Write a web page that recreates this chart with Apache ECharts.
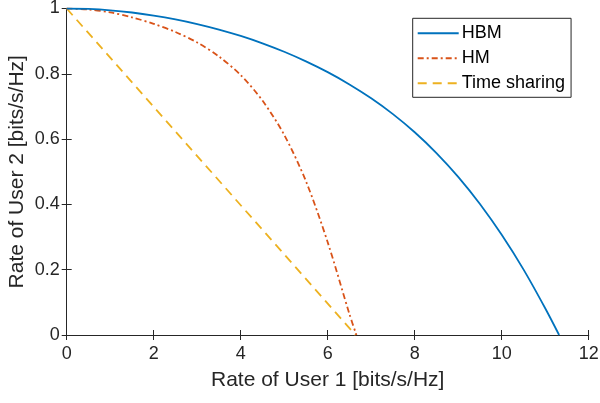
<!DOCTYPE html>
<html>
<head>
<meta charset="utf-8">
<script src="https://cdn.jsdelivr.net/npm/echarts@6/dist/echarts.min.js"></script>
<style>
html,body{margin:0;padding:0;background:#fff;}
#c{width:600px;height:403px;}
</style>
</head>
<body>
<div id="c"></div>
<script>
var seriesNames = ['HBM', 'HM', 'Time sharing'];
var xTicks = [0, 2, 4, 6, 8, 10, 12];
var yTicks = [0, 0.2, 0.4, 0.6, 0.8, 1];

var hbmX = [0, 0.5, 1, 1.5, 2, 2.5, 3, 3.5, 4, 4.5, 5, 5.5, 6, 6.5, 7, 7.5, 8, 8.5, 9, 9.5, 10, 10.5, 11, 11.32];
var hbmY = [1, 0.9986, 0.9945, 0.9878, 0.9785, 0.9668, 0.9525, 0.9356, 0.916, 0.8934, 0.8675, 0.8381, 0.805, 0.7675, 0.725, 0.6765, 0.621, 0.5574, 0.4845, 0.4014, 0.307, 0.201, 0.082, 0];

var hmX = [0, 0.5, 1, 1.5, 2, 2.5, 3, 3.5, 4, 4.5, 5, 5.5, 6, 6.5, 6.66];
var hmY = [1, 0.997, 0.988, 0.973, 0.953, 0.928, 0.896, 0.853, 0.796, 0.718, 0.613, 0.471, 0.284, 0.064, 0];

var tsX = [0, 6.64];
var tsY = [1, 0];

function pairs(xs, ys) { return xs.map(function (x, i) { return [x, ys[i]]; }); }

var FONT = '"Liberation Sans", Arial, Helvetica, sans-serif';
var AX = '#262626';

var chart = echarts.init(document.getElementById('c'), null, {renderer: 'canvas'});
var baseAxis = {
  axisLine: {show: true, lineStyle: {color: AX, width: 1}},
  axisTick: {show: true, inside: true, length: 5, lineStyle: {color: AX, width: 1}},
  splitLine: {show: false}
};
chart.setOption({
  backgroundColor: '#ffffff',
  animation: false,
  grid: {left: 66.7, right: 11.3, top: 8.5, bottom: 68, containLabel: false, outerBoundsMode: 'none'},
  legend: {
    orient: 'vertical',
    left: 412.7, top: 18.3,
    data: seriesNames,
    backgroundColor: '#ffffff',
    borderColor: AX, borderWidth: 1,
    padding: [5, 6, 4, 4],
    itemWidth: 41, itemHeight: 14, itemGap: 5,
    itemStyle: {opacity: 0},
    textStyle: {fontFamily: FONT, fontSize: 18, color: '#000', lineHeight: 20, padding: [0, 0, 0, -2]}
  },
  xAxis: [
    Object.assign({}, baseAxis, {
      type: 'value', min: xTicks[0], max: xTicks[xTicks.length - 1], interval: xTicks[1] - xTicks[0],
      position: 'bottom',
      name: 'Rate of User 1 [bits/s/Hz]', nameLocation: 'middle', nameGap: 35,
      nameTextStyle: {fontFamily: FONT, fontSize: 21, color: AX},
      axisLabel: {fontFamily: FONT, fontSize: 18, color: AX, margin: 10}
    }),
    Object.assign({}, baseAxis, {
      type: 'value', min: xTicks[0], max: xTicks[xTicks.length - 1], interval: xTicks[1] - xTicks[0],
      position: 'top', axisLabel: {show: false}
    })
  ],
  yAxis: [
    Object.assign({}, baseAxis, {
      type: 'value', min: yTicks[0], max: yTicks[yTicks.length - 1], interval: 0.2,
      position: 'left',
      name: 'Rate of User 2 [bits/s/Hz]', nameLocation: 'middle', nameGap: 39, nameMoveOverlap: false,
      nameTextStyle: {fontFamily: FONT, fontSize: 21, color: AX},
      axisLabel: {fontFamily: FONT, fontSize: 18, color: AX, margin: 7}
    }),
    Object.assign({}, baseAxis, {
      type: 'value', min: yTicks[0], max: yTicks[yTicks.length - 1], interval: 0.2,
      position: 'right', axisLabel: {show: false}
    })
  ],
  series: [
    {
      name: seriesNames[0], type: 'line', data: pairs(hbmX, hbmY), smooth: 0.3,
      symbol: 'none', lineStyle: {color: '#0072BD', width: 1.8}, itemStyle: {color: '#0072BD'}, z: 3
    },
    {
      name: seriesNames[1], type: 'line', data: pairs(hmX, hmY), smooth: 0.3,
      symbol: 'none', lineStyle: {color: '#D95319', width: 1.8, type: [6, 3, 2, 3]}, itemStyle: {color: '#D95319'}, z: 2
    },
    {
      name: seriesNames[2], type: 'line', data: pairs(tsX, tsY),
      symbol: 'none', lineStyle: {color: '#EDB120', width: 1.8, type: [9, 6]}, itemStyle: {color: '#EDB120'}, z: 1
    }
  ]
});
</script>
</body>
</html>
